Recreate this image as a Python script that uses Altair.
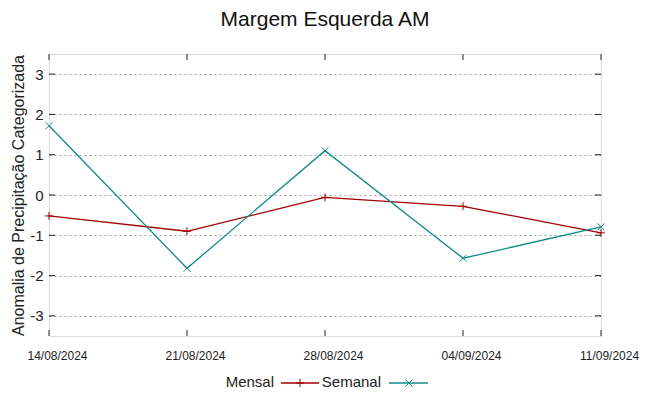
import altair as alt
import pandas as pd

dates = ["14/08/2024", "21/08/2024", "28/08/2024", "04/09/2024", "11/09/2024"]
mensal = [-0.52, -0.90, -0.06, -0.28, -0.94]
semanal = [1.72, -1.82, 1.10, -1.57, -0.79]
y_ticks = [-3, -2, -1, 0, 1, 2, 3]

FONT = "Liberation Sans"
RED = "#a00000"
TEAL = "#108a8a"
PLUS = "M-1,0L1,0M0,-1L0,1"
XSHP = "M-1,-1L1,1M-1,1L1,-1"

idx = list(range(len(dates)))
df_m = pd.DataFrame({"i": idx, "v": mensal})
df_s = pd.DataFrame({"i": idx, "v": semanal})
df_yt = pd.DataFrame({"t": y_ticks})
df_xt = pd.DataFrame({"i": idx})
one = df_xt.head(1)

label_expr = "[" + ",".join("'" + d + "'" for d in dates) + "][datum.value]"

xs = alt.Scale(domain=[0, len(dates) - 1], nice=False, zero=False)
ys = alt.Scale(domain=[-3.5, 3.5], nice=False, zero=False)

x_axis = alt.Axis(values=idx, labelExpr=label_expr, grid=False, ticks=False,
                  domain=False, labelFont=FONT, labelFontSize=12, labelColor="#222222",
                  labelPadding=14, labelOffset=8, title=None, labelFlush=False)
y_axis = alt.Axis(values=y_ticks, grid=True, gridDash=[2, 3], gridColor="#a0a0a0",
                  gridWidth=1, ticks=False, domain=False, labelFont=FONT,
                  labelExpr="'' + datum.value",
                  labelFontSize=15, labelColor="#222222", labelPadding=6,
                  title="Anomalia de Precipitação Categorizada", titleFont=FONT,
                  titleFontSize=16, titleFontWeight="normal", titleColor="#222222",
                  titlePadding=3)

base_axes = alt.Chart(df_m).mark_line(opacity=0).encode(
    x=alt.X("i:Q", scale=xs, axis=x_axis),
    y=alt.Y("v:Q", scale=ys, axis=y_axis),
)

line_m = alt.Chart(df_m).mark_line(color=RED, strokeWidth=1.3).encode(
    x=alt.X("i:Q", scale=xs), y=alt.Y("v:Q", scale=ys))
pts_m = alt.Chart(df_m).mark_point(shape=PLUS, color=RED, size=64, strokeWidth=1, filled=False, opacity=1).encode(
    x=alt.X("i:Q", scale=xs), y=alt.Y("v:Q", scale=ys))
line_s = alt.Chart(df_s).mark_line(color=TEAL, strokeWidth=1.3).encode(
    x=alt.X("i:Q", scale=xs), y=alt.Y("v:Q", scale=ys))
pts_s = alt.Chart(df_s).mark_point(shape=XSHP, color=TEAL, size=49, strokeWidth=1, filled=False, opacity=1).encode(
    x=alt.X("i:Q", scale=xs), y=alt.Y("v:Q", scale=ys))

# inward tick marks (gnuplot style)
ytl = alt.Chart(df_yt).mark_rule(color="#222222").encode(
    y=alt.Y("t:Q", scale=ys), x=alt.value(0), x2=alt.value(6))
ytr = alt.Chart(df_yt).mark_rule(color="#222222").encode(
    y=alt.Y("t:Q", scale=ys), x=alt.value(546), x2=alt.value(552))
xtb = alt.Chart(df_xt).mark_rule(color="#222222").encode(
    x=alt.X("i:Q", scale=xs), y=alt.value(282), y2=alt.value(276))
xtt = alt.Chart(df_xt).mark_rule(color="#222222").encode(
    x=alt.X("i:Q", scale=xs), y=alt.value(0), y2=alt.value(6))

# legend below the plot (label then sample)
leg_y = 328
leg_m_txt = alt.Chart(one).mark_text(text="Mensal", font=FONT, fontSize=15, align="right",
                                     baseline="middle", color="#222222").encode(
    x=alt.value(225), y=alt.value(leg_y))
leg_m_line = alt.Chart(one).mark_rule(color=RED, strokeWidth=1.3).encode(
    x=alt.value(232), x2=alt.value(270), y=alt.value(leg_y + 1))
leg_m_pt = alt.Chart(one).mark_point(shape=PLUS, color=RED, size=64, strokeWidth=1, opacity=1).encode(
    x=alt.value(251), y=alt.value(leg_y + 1))
leg_s_txt = alt.Chart(one).mark_text(text="Semanal", font=FONT, fontSize=15, align="right",
                                     baseline="middle", color="#222222").encode(
    x=alt.value(332), y=alt.value(leg_y))
leg_s_line = alt.Chart(one).mark_rule(color=TEAL, strokeWidth=1.3).encode(
    x=alt.value(340), x2=alt.value(379), y=alt.value(leg_y + 1))
leg_s_pt = alt.Chart(one).mark_point(shape=XSHP, color=TEAL, size=49, strokeWidth=1, opacity=1).encode(
    x=alt.value(360), y=alt.value(leg_y + 1))

chart = alt.layer(
    base_axes, ytl, ytr, xtb, xtt, line_m, pts_m, line_s, pts_s,
    leg_m_txt, leg_m_line, leg_m_pt, leg_s_txt, leg_s_line, leg_s_pt,
).properties(
    width=552, height=282,
    title=alt.TitleParams("Margem Esquerda AM", font=FONT, fontSize=21, fontWeight="normal",
                          color="#111111", anchor="middle", offset=24),
    autosize=alt.AutoSizeParams(type="none"),
    padding={"left": 41, "top": 46, "right": 40, "bottom": 56},
).configure_view(
    stroke="#333333", strokeWidth=1
).configure(background="white")

chart.save("out.html", embed_options={"renderer": "svg", "actions": False})
